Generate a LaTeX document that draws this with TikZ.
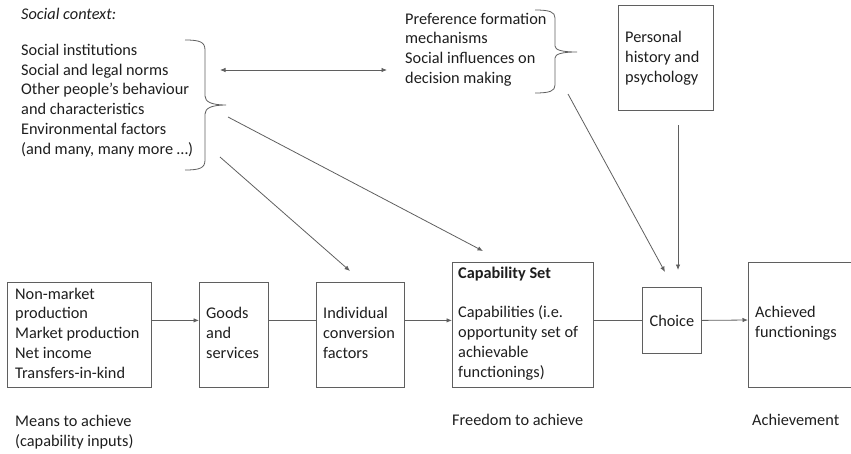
\documentclass[tikz,border=0pt]{standalone}
\usepackage{fontspec}
\setmainfont{Carlito}
\usetikzlibrary{arrows.meta}
\definecolor{ln}{RGB}{95,95,95}
\definecolor{tx}{RGB}{30,30,30}
\begin{document}
\begin{tikzpicture}[x=1pt,y=-1pt,
 txt/.style={inner sep=0pt, align=left, anchor=west, text=tx, font=\fontsize{16.3}{19.8}\selectfont},
 box/.style={draw=ln, line width=0.8pt, anchor=north west, inner sep=0pt},
 con/.style={draw=ln, line width=0.8pt},
 tip/.style={-{Latex[length=5.5pt,width=4.5pt]}},
 arr/.style={con, tip}]
\useasboundingbox (0,0) rectangle (851,453);
% boxes
\node[box, minimum width=144pt, minimum height=105pt] (b1) at (7,282) {};
\node[box, minimum width=69pt, minimum height=105pt] (b2) at (199,282) {};
\node[box, minimum width=88pt, minimum height=105pt] (b3) at (316,282) {};
\node[box, minimum width=141pt, minimum height=125pt] (cap) at (452,262) {};
\node[box, minimum width=59pt, minimum height=66pt, text=tx, font=\fontsize{16.3}{19.8}\selectfont] (ch) at (642,287) {Choice};
\node[box, minimum width=95pt, minimum height=105pt] (per) at (618,5) {};
\draw[con] (851,262) -- (748,262) -- (748,387) -- (851,387);
\coordinate (achW) at (748,320);
% texts
\node[txt, font=\fontsize{16.3}{19.8}\selectfont\itshape] (ctx) at (21,14) {Social context:};
\node[txt] (soc) at (21,100.5) {Social institutions\\ Social and legal norms\\ Other people’s behaviour\\ and characteristics\\ Environmental factors\\ (and many, many more …)};
\node[txt] (pref) at (405,49.5) {Preference formation\\ mechanisms\\ Social influences on\\ decision making};
\node[txt] (pert) at (625,58) {Personal\\ history and\\ psychology};
\node[txt] (b1t) at (15,333) {Non-market\\ production\\ Market production\\ Net income\\ Transfers-in-kind};
\node[txt] (b2t) at (206,333) {Goods\\ and\\ services};
\node[txt] (b3t) at (323,333) {Individual\\ conversion\\ factors};
\node[txt, font=\fontsize{16.3}{19.8}\selectfont\bfseries] (capt) at (458,274) {Capability Set};
\node[txt] (capb) at (458,343) {Capabilities (i.e.\\ opportunity set of\\ achievable\\ functionings)};
\node[txt] (acht) at (755,323) {Achieved\\ functionings};
\node[txt] (l1) at (15,432.5) {Means to achieve\\ (capability inputs)};
\node[txt] (l2) at (452,420) {Freedom to achieve};
\node[txt] (l3) at (752,420) {Achievement};
% braces
\draw[con] (185,40) .. controls (200,40) and (205,42) .. (205,50) -- (205,96) .. controls (205,102) and (212,105) .. (226,105) .. controls (212,105) and (205,108) .. (205,114) -- (205,160) .. controls (205,168) and (200,170) .. (185,170);
\draw[con] (535,10) .. controls (550,10) and (555,12) .. (555,18) -- (555,46) .. controls (555,50) and (562,52) .. (577,52) .. controls (562,52) and (555,54) .. (555,58) -- (555,85) .. controls (555,91) and (550,93) .. (535,93);
% connectors
\coordinate (dA) at (220,70); \coordinate (dB) at (387,70);
\draw[con, {Latex[length=5.5pt,width=4.5pt]}-{Latex[length=5.5pt,width=4.5pt]}] (dA) -- (dB);
\coordinate (s1) at (228,117); \coordinate (e1) at (483,251);
\coordinate (s2) at (220,157); \coordinate (e2) at (350,271);
\coordinate (s3) at (568,94); \coordinate (e3) at (665,272);
\coordinate (s4) at (678,125); \coordinate (e4) at (678,270);
\draw[arr] (s1) -- (e1);
\draw[arr] (s2) -- (e2);
\draw[arr] (s3) -- (e3);
\draw[arr] (s4) -- (e4);
\draw[arr] (b1.east |- ch) -- (b2.west |- ch);
\draw[con] (b2.east |- ch) -- (b3.west |- ch);
\draw[arr] (b3.east |- ch) -- (cap.west |- ch);
\draw[con] (cap.east |- ch) -- (ch.west);
\draw[arr] (ch.east) -- (achW);
\end{tikzpicture}
\end{document}
